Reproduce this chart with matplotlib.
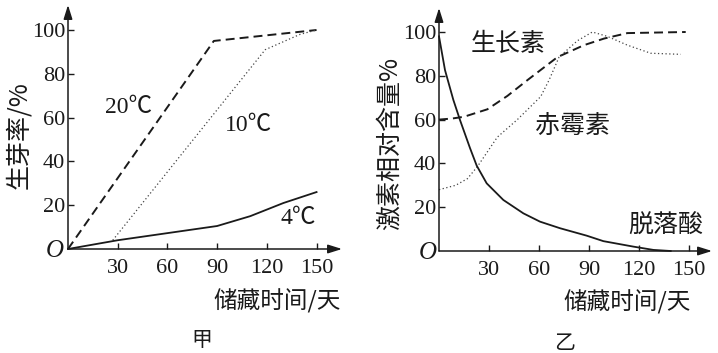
import matplotlib
matplotlib.use("Agg")
import matplotlib.pyplot as plt

# ---------------- data ----------------
ticks_x = [30, 60, 90, 120, 150]
ticks_y = [20, 40, 60, 80, 100]

# 甲: germination rate
x20 = [0, 88, 150]
y20 = [0, 95, 100]
x10 = [27, 119, 140, 150]
y10 = [4, 91, 98, 100]
x4 = [0, 30, 90, 110, 130, 150]
y4 = [0, 4, 10.5, 15, 21, 26]

# 乙: hormone relative content
x_iaa = [0, 8, 15, 29, 41, 53, 71, 87, 99, 113, 148]
y_iaa = [60, 60.5, 61.3, 64.7, 70.8, 78, 88.5, 94, 97, 99.5, 100]
x_ga = [0, 10, 17, 23, 35, 47, 61, 66, 72, 83, 92, 101, 113, 127, 145]
y_ga = [28, 30, 33, 38.5, 52, 60, 70.5, 78, 88.5, 96, 100, 98, 94, 90.3, 89.8]
x_aba = [0, 3.6, 8.6, 12.6, 18.6, 22.6, 28.6, 38.6, 50.6, 60.6, 72.6, 88.6, 98.6, 116.6, 128.6, 139]
y_aba = [98, 82.6, 69, 59.8, 47, 39, 30.9, 23.3, 17.2, 13.4, 10.4, 7, 4.5, 2, 0.5, 0]

W, H = 718, 353
SERIF = ["Liberation Serif", "Noto Sans CJK SC"]
CJK = ["Noto Sans CJK SC", "DejaVu Sans"]
INK = "#1a1a1a"

fig = plt.figure(figsize=(W / 100, H / 100), dpi=100)


def make_axes(ox, oy, tipx, tipy, pxx, pxy):
    ax = fig.add_axes([ox / W, (H - oy) / H, (tipx - ox) / W, (oy - tipy) / H])
    ax.set_xlim(0, (tipx - ox) / pxx)
    ax.set_ylim(0, (oy - tipy) / pxy)
    for s in ax.spines.values():
        s.set_visible(False)
    ax.patch.set_alpha(0)
    ax.set_xticks(ticks_x)
    ax.set_yticks(ticks_y)
    ax.set_xticklabels([str(t) for t in ticks_x], family=SERIF, fontsize=16, color=INK)
    ax.set_yticklabels([str(t) for t in ticks_y], family=SERIF, fontsize=16, color=INK)
    ax.tick_params(axis="both", direction="in", length=4, width=1.0, color=INK)
    ax.tick_params(axis="x", pad=7)
    ax.tick_params(axis="y", pad=2)
    arrow = dict(arrowstyle="-|>,head_length=0.7,head_width=0.22", lw=1.1,
                 color=INK, shrinkA=0, shrinkB=0, mutation_scale=12)
    ax.annotate("", xy=(1, 0), xytext=(0, 0), xycoords="axes fraction",
                textcoords="axes fraction", arrowprops=arrow, annotation_clip=False)
    ax.annotate("", xy=(0, 1), xytext=(0, 0), xycoords="axes fraction",
                textcoords="axes fraction", arrowprops=arrow, annotation_clip=False)
    return ax


# ---------------- 甲 ----------------
ax1 = make_axes(68, 249, 342, 5, 1.657, 2.19)
ax1.plot(x20, y20, color=INK, lw=1.4, dashes=(4.6, 2.6), clip_on=False)
ax1.plot(x10, y10, color="#444444", lw=0.9, dashes=(1, 2), clip_on=False)
ax1.plot(x4, y4, color=INK, lw=1.3, clip_on=False)
ax1.text(36.5, 64.6, "20℃", family=SERIF, fontsize=17, ha="center", va="center", color=INK)
ax1.text(109, 56.2, "10℃", family=SERIF, fontsize=17, ha="center", va="center", color=INK)
ax1.text(139, 13.7, "4℃", family=SERIF, fontsize=17, ha="center", va="center", color=INK)

# ---------------- 乙 ----------------
ax2 = make_axes(439, 251, 712, 8, 1.667, 2.19)
ax2.plot(x_iaa, y_iaa, color=INK, lw=1.4, dashes=(4.6, 2.6), clip_on=False)
ax2.plot(x_ga, y_ga, color="#444444", lw=0.9, dashes=(1, 2), clip_on=False)
ax2.plot(x_aba, y_aba, color=INK, lw=1.3, clip_on=False)
ax2.text(41.7, 94.5, "生长素", family=CJK, fontsize=18, ha="center", va="center", color=INK)
ax2.text(80.1, 57, "赤霉素", family=CJK, fontsize=18, ha="center", va="center", color=INK)
ax2.text(135.9, 11.4, "脱落酸", family=CJK, fontsize=18, ha="center", va="center", color=INK)

# ---------------- figure-level texts ----------------
def ftext(x, y, s, **kw):
    fig.text(x / W, 1 - y / H, s, ha="center", va="center", color=INK, **kw)

ftext(55, 251, "O", family=SERIF, style="italic", fontsize=18)
ftext(428, 253, "O", family=SERIF, style="italic", fontsize=18)
ftext(277, 301, "储藏时间/天", family=CJK, fontsize=17)
ftext(627.5, 302.5, "储藏时间/天", family=CJK, fontsize=17)
ftext(19, 135.5, "生芽率/%", family=CJK, fontsize=18, rotation=90)
ftext(390, 143.5, "激素相对含量%", family=CJK, fontsize=18, rotation=90)
ftext(202, 340, "甲", family=CJK, fontsize=15)
ftext(565, 343, "乙", family=CJK, fontsize=15)

fig.savefig("out.png", dpi=100)
